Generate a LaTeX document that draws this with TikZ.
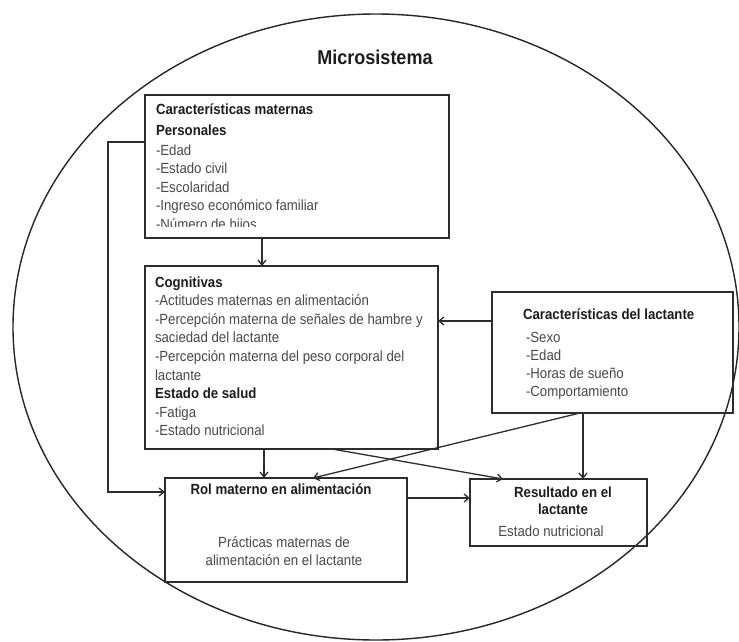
\documentclass[tikz,border=0pt]{standalone}
\usepackage{fontspec}
\setmainfont{Liberation Sans}[FakeStretch=0.9]
\usetikzlibrary{arrows.meta}

\definecolor{msline}{RGB}{45,45,45}
\definecolor{mstext}{RGB}{72,72,72}
\definecolor{mshead}{RGB}{28,28,28}
\newcommand{\capstrut}{\rule{0pt}{12pt}}
\newcommand{\hd}[1]{\textbf{\color{mshead}#1}}

\begin{document}
\begin{tikzpicture}[
  x=1pt,
  y=-1pt,
  every node/.style={inner sep=0pt, outer sep=0pt},
  box/.style={draw=msline, line width=1.8pt},
  txt/.style={font=\fontsize{14.7}{18.6}\selectfont, text=mstext, align=left, anchor=north west},
  head/.style={font=\bfseries\fontsize{14.7}{18.6}\selectfont, text=mshead},
  arr/.style={draw=msline, line width=1.3pt, -{Straight Barb[length=5pt,width=8pt]}}
]

  \path[use as bounding box] (0,0) rectangle (739,641);

  % Microsystem outline
  \draw[line width=1.4pt, black!85] (376,327) ellipse [x radius=363pt, y radius=313pt];
  \node[font=\bfseries\fontsize{20}{24}\selectfont, text=mshead, anchor=base] (ttl) at (375,64) {Microsistema};

  % Boxes
  \node[box, minimum width=304pt, minimum height=143pt] (mat) at (297,166.5) {};
  \node[box, minimum width=293pt, minimum height=183pt] (cog) at (291.5,357.5) {};
  \node[box, minimum width=241pt, minimum height=121pt] (lac) at (612.5,352.5) {};
  \node[box, minimum width=242pt, minimum height=104pt] (rol) at (286,530) {};
  \node[box, minimum width=177pt, minimum height=67pt] (res) at (558.5,512.5) {};

  % Maternal characteristics
  \begin{scope}
    \clip (145,95) rectangle (449,226);
    \node[txt] (mattxt) at (156,102) {\capstrut\hd{Características maternas}\\[2.4pt]
      \hd{Personales}\\[1.4pt]
      -Edad\\ -Estado civil\\ -Escolaridad\\ -Ingreso económico familiar\\ -Número de hijos};
  \end{scope}

  \node[txt] (cogtxt) at (155,275) {\capstrut\hd{Cognitivas}\\
    -Actitudes maternas en alimentación\\
    -Percepción materna de señales de hambre y\\
    saciedad del lactante\\
    -Percepción materna del peso corporal del\\
    lactante\\
    \hd{Estado de salud}\\
    -Fatiga\\
    -Estado nutricional};

  % Infant characteristics
  \node[txt] (lactit) at (523,307) {\capstrut\hd{Características del lactante}};
  \node[txt, font=\fontsize{14.7}{18.3}\selectfont] (lacitems) at (526,330)
    {\capstrut-Sexo\\ -Edad\\ -Horas de sueño\\ -Comportamiento};

  % Feeding role and outcome
  \node[head, anchor=base] (roltit) at (281,494) {Rol materno en alimentación};
  \node[txt, align=center, anchor=north] (roltxt) at (284,535)
    {\capstrut Prácticas maternas de\\ alimentación en el lactante};
  \node[head, font=\bfseries\fontsize{14.7}{17.5}\selectfont, align=center, anchor=north] (restit) at (563,485)
    {\capstrut Resultado en el\\ lactante};
  \node[txt, anchor=base] (restxt) at (551,536) {Estado nutricional};

  % Arrows
  \coordinate (ma) at ([xshift=-35pt]mat.south);
  \draw[arr] (ma) -- (ma |- cog.north);
  \coordinate (la) at ([yshift=31.5pt]lac.west);
  \draw[arr] (la) -- (la -| cog.east);
  \coordinate (ml) at ([yshift=24.5pt]mat.west);
  \coordinate (rl) at ([yshift=38pt]rol.west);
  \draw[arr] (ml) -- ++(-37,0) |- (rl);
  \coordinate (cb) at ([xshift=-27.5pt]cog.south);
  \draw[arr] (cb) -- (cb |- rol.north);
  \draw[arr] ([xshift=40.5pt]cog.south) -- ([xshift=-55.5pt]res.north);
  \draw[arr] ([xshift=-32.5pt]lac.south) -- ([xshift=27pt]rol.north);
  \coordinate (lb) at ([xshift=-29.5pt]lac.south);
  \draw[arr] (lb) -- (lb |- res.north);
  \coordinate (rr) at ([yshift=32pt]rol.east);
  \draw[arr] (rr) -- (rr -| res.west);

\end{tikzpicture}
\end{document}
